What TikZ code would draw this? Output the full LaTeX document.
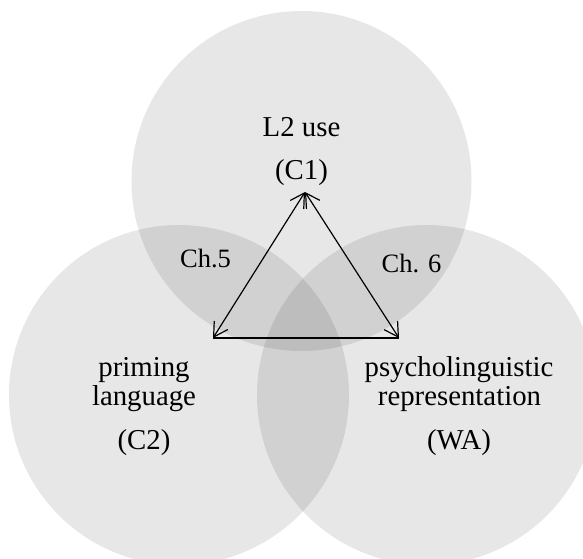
\documentclass[tikz,border=0pt]{standalone}
\usepackage{fontspec}
\setmainfont{Liberation Serif}
\usetikzlibrary{arrows.meta}
\begin{document}
\begin{tikzpicture}[x=1pt,y=-1pt,
  venn/.style={fill=black,fill opacity=0.095},
  lbl/.style={anchor=base,inner sep=0pt,font=\fontsize{28.8}{30}\selectfont},
  chlbl/.style={anchor=base,inner sep=0pt,font=\fontsize{26.5}{28}\selectfont},
  link/.style={line width=1.2pt,{Straight Barb[angle=60:16pt]}-{Straight Barb[angle=60:16pt]}},
  baseline/.style={line width=2.8pt}]
\useasboundingbox (0,0) rectangle (583,558);
\clip (0,0) rectangle (583,558);
% circles
\fill[venn] (301.5,181) circle[radius=170pt];
\fill[venn] (179,395) circle[radius=170pt];
\fill[venn] (427,395) circle[radius=170pt];
% triangle corners
\coordinate (T) at (305,192);
\coordinate (BL) at (213,338);
\coordinate (BR) at (399,338);
\draw[link] (BL) -- (T);
\draw[link] (BR) -- (T);
\draw[baseline] (BL) -- (BR);
% labels
\node[lbl] (l2a) at (301.5,136.5) {L2 use};
\node[lbl] (l2b) at (301.5,179.5) {(C1)};
\node[chlbl] (ch5) at (205.5,267.5) {Ch.5};
\node[chlbl] (ch6) at (411.5,272.5) {Ch. 6};
\node[lbl] (pra) at (144,376.5) {priming};
\node[lbl] (prb) at (144,405.5) {language};
\node[lbl] (prc) at (144,449) {(C2)};
\node[lbl] (psa) at (459,376.5) {psycholinguistic};
\node[lbl] (psb) at (459.5,405.5) {representation};
\node[lbl] (psc) at (459,449) {(WA)};
\end{tikzpicture}
\end{document}
